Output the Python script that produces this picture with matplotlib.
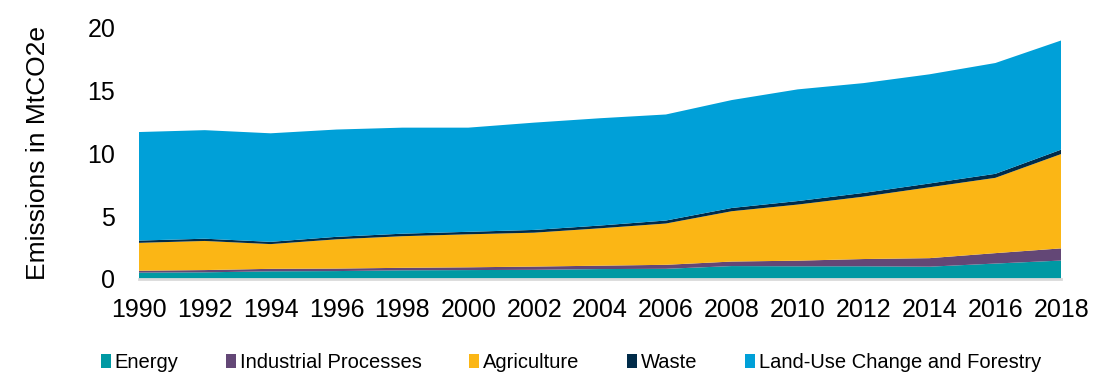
import matplotlib
matplotlib.use('Agg')
import matplotlib.pyplot as plt
import numpy as np
from matplotlib.patches import Patch

plt.rcParams['font.family'] = ['Liberation Sans', 'DejaVu Sans']

# data (MtCO2e), every second year
years = [1990, 1992, 1994, 1996, 1998, 2000, 2002, 2004, 2006,
         2008, 2010, 2012, 2014, 2016, 2018]
energy = [0.50, 0.52, 0.60, 0.62, 0.68, 0.70, 0.72, 0.78, 0.80,
          1.02, 1.00, 1.00, 0.97, 1.22, 1.46]
industrial = [0.15, 0.18, 0.20, 0.20, 0.20, 0.22, 0.26, 0.27, 0.32,
              0.36, 0.45, 0.58, 0.68, 0.83, 0.97]
agriculture = [2.22, 2.32, 1.97, 2.33, 2.52, 2.63, 2.70, 2.98, 3.29,
               4.01, 4.47, 4.97, 5.65, 6.00, 7.52]
waste = [0.18, 0.18, 0.18, 0.20, 0.20, 0.20, 0.22, 0.22, 0.24,
         0.26, 0.28, 0.30, 0.30, 0.32, 0.35]
lucf = [8.65, 8.65, 8.65, 8.55, 8.45, 8.30, 8.55, 8.55, 8.45,
        8.60, 8.90, 8.75, 8.70, 8.83, 8.70]

labels = ['Energy', 'Industrial Processes', 'Agriculture', 'Waste',
          'Land-Use Change and Forestry']
colors = ['#0099a3', '#634776', '#fbb615', '#002b49', '#00a0d8']

fig = plt.figure(figsize=(11.02, 3.82), dpi=100)
ax = fig.add_axes([0.126, 0.27, 0.837, 0.657])

ax.stackplot(years, energy, industrial, agriculture, waste, lucf,
             colors=colors, linewidth=0)

ax.set_xlim(years[0], years[-1])
ax.set_ylim(0, 20)
ax.set_xticks(years)
ax.set_yticks([0, 5, 10, 15, 20])
ax.tick_params(axis='both', length=0, labelsize=18)
ax.tick_params(axis='x', pad=14)
ax.tick_params(axis='y', pad=17)
for s in ['top', 'right', 'left']:
    ax.spines[s].set_visible(False)
ax.spines['bottom'].set_color('#d9d9d9')
ax.spines['bottom'].set_linewidth(2)
ax.set_ylabel('Emissions in MtCO2e', fontsize=19, labelpad=27)

handles = [Patch(facecolor=c, edgecolor='none') for c in colors]
fig.legend(handles, labels, loc='center', bbox_to_anchor=(0.518, 0.052),
           ncol=5, frameon=False, fontsize=14.5, handlelength=0.5,
           handleheight=0.7, handletextpad=0.2, columnspacing=2.35)

plt.savefig('out.png')
plt.close()
